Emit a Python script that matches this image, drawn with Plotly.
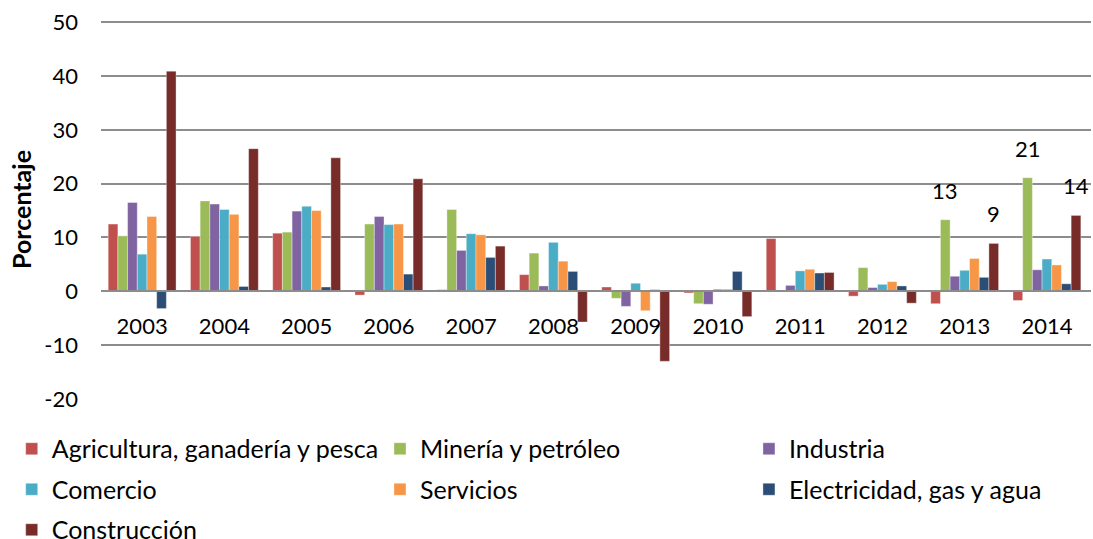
import plotly.graph_objects as go

years = ["2003", "2004", "2005", "2006", "2007", "2008", "2009", "2010", "2011", "2012", "2013", "2014"]

agricultura = [12.5, 10.2, 10.8, -0.7, 0.3, 3.1, 0.8, -0.3, 9.8, -0.9, -2.3, -1.7]
mineria = [10.3, 16.8, 11.0, 12.5, 15.2, 7.1, -1.3, -2.3, 0.2, 4.4, 13.3, 21.1]
industria = [16.5, 16.2, 14.9, 13.9, 7.6, 1.0, -2.8, -2.4, 1.1, 0.7, 2.8, 4.0]
comercio = [6.9, 15.2, 15.8, 12.4, 10.7, 9.1, 1.5, 0.4, 3.8, 1.3, 3.9, 6.0]
servicios = [13.9, 14.3, 15.0, 12.5, 10.5, 5.6, -3.6, 0.4, 4.1, 1.8, 6.1, 4.9]
electricidad = [-3.2, 0.9, 0.8, 3.2, 6.3, 3.7, 0.3, 3.7, 3.4, 1.0, 2.6, 1.4]
construccion = [40.9, 26.5, 24.8, 20.9, 8.4, -5.7, -13.0, -4.7, 3.5, -2.2, 8.9, 14.1]

y_ticks = [-20, -10, 0, 10, 20, 30, 40, 50]

# solo se rotulan los dos ultimos años de mineria y construccion
labeled_years = ["2013", "2014"]

# nombre, valores, color, rotulado, leyenda (columna)
series = [
    ("Agricultura, ganadería y pesca", agricultura, "#C0504D", False, "legend"),
    ("Minería y petróleo", mineria, "#9BBB59", True, "legend2"),
    ("Industria", industria, "#8064A2", False, "legend3"),
    ("Comercio", comercio, "#4BACC6", False, "legend"),
    ("Servicios", servicios, "#F79646", False, "legend2"),
    ("Electricidad, gas y agua", electricidad, "#2C4D75", False, "legend3"),
    ("Construcción", construccion, "#772C2A", True, "legend"),
]

font = "Lato, Calibri, sans-serif"
bargap = 0.175
n = len(series)
bar_w = (1 - bargap) / n

fig = go.Figure()
annotations = []
for i, (name, vals, color, lab, leg) in enumerate(series):
    fig.add_trace(go.Bar(
        x=years, y=vals, name=name, marker_color=color,
        marker_line=dict(width=0.6, color="rgba(255,255,255,0.6)"),
        legend=leg, legendgroup=name,
    ))
    if lab:
        off = -(1 - bargap) / 2 + (i + 0.5) * bar_w
        for k, (yr, v) in enumerate(zip(years, vals)):
            if yr in labeled_years:
                annotations.append(dict(
                    x=k + off, y=v, xref="x", yref="y", text=f"{v:.0f}",
                    showarrow=False, yanchor="bottom", yshift=14,
                    font=dict(size=22, color="black", family=font),
                ))

leg_common = dict(
    orientation="v", xanchor="left", y=-0.0712, yanchor="top",
    font=dict(size=25, family=font), tracegroupgap=5,
    bgcolor="rgba(0,0,0,0)",
)

fig.update_layout(
    width=1093, height=539,
    margin=dict(l=101, r=2, t=20, b=140, autoexpand=False),
    paper_bgcolor="white", plot_bgcolor="white",
    barmode="group", bargap=bargap, bargroupgap=0,
    font=dict(family=font, size=22, color="black"),
    showlegend=True,
    legend=dict(x=-0.0902, **leg_common),
    legend2=dict(x=0.2818, **leg_common),
    legend3=dict(x=0.6545, **leg_common),
    annotations=annotations,
    xaxis=dict(
        anchor="free", position=20 / 70.4,
        showline=True, linecolor="#8C8C8C", linewidth=2,
        showgrid=False, ticks="", tickfont=dict(size=22),
        ticklabelstandoff=15,
    ),
    yaxis=dict(
        range=[-20, 50.4], tickvals=y_ticks, ticktext=[str(t) for t in y_ticks],
        showgrid=True, gridcolor="#8C8C8C", gridwidth=2,
        zeroline=True, zerolinecolor="#8C8C8C", zerolinewidth=2,
        showline=False, ticks="", tickfont=dict(size=22),
        ticklabelstandoff=22,
        title=dict(text="<b>Porcentaje</b>", font=dict(size=25), standoff=5),
    ),
)

fig.write_html("out.html", config={"displayModeBar": False},
               post_script="document.body.style.margin='0';")
